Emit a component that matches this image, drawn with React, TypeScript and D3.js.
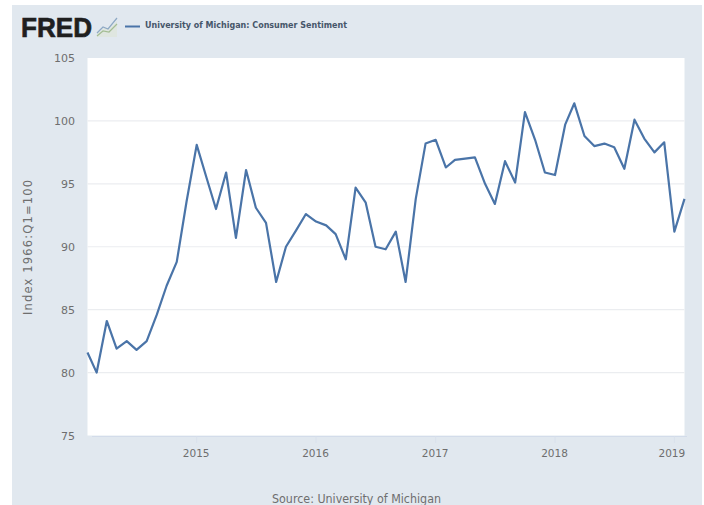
import React from "react";
import * as d3 from "d3";

// University of Michigan: Consumer Sentiment, monthly, Feb 2014 – Feb 2019
const sentiment = [
  81.6, 80.0, 84.1, 81.9, 82.5, 81.8, 82.5, 84.6, 86.9, 88.8, 93.6,
  98.1, 95.4, 93.0, 95.9, 90.7, 96.1, 93.1, 91.9, 87.2, 90.0, 91.3, 92.6,
  92.0, 91.7, 91.0, 89.0, 94.7, 93.5, 90.0, 89.8, 91.2, 87.2, 93.8, 98.2,
  98.5, 96.3, 96.9, 97.0, 97.1, 95.0, 93.4, 96.8, 95.1, 100.7, 98.5, 95.9,
  95.7, 99.7, 101.4, 98.8, 98.0, 98.2, 97.9, 96.2, 100.1, 98.6, 97.5, 98.3,
  91.2, 93.8,
];
const yTicks = [75, 80, 85, 90, 95, 100, 105];
const xTicks = [2015, 2016, 2017, 2018, 2019];
const seriesTitle = "University of Michigan: Consumer Sentiment";
const yAxisTitle = "Index 1966:Q1=100";
const sourceNote = "Source: University of Michigan";

const dates = sentiment.map((_, i) => new Date(2014, 1 + i, 1));
const font = "'DejaVu Sans', sans-serif";

export default function App() {
  const x = d3
    .scaleTime()
    .domain([new Date(2014, 1, 1), new Date(2019, 1, 1)])
    .range([87.5, 684.5]);
  const y = d3.scaleLinear().domain([75, 105]).range([435.5, 58]);
  const line = d3
    .line<number>()
    .x((_, i) => x(dates[i]))
    .y((d) => y(d));

  return (
    <svg
      width={704}
      height={505}
      style={{ position: "absolute", left: 0, top: 0, display: "block" }}
    >
      <rect x={0} y={0} width={704} height={505} fill="#ffffff" />
      <rect x={12} y={5} width={690} height={500} fill="#e1e8ef" />
      <rect x={87.5} y={58} width={597} height={377.5} fill="#ffffff" />

      {yTicks.slice(1, -1).map((t) => (
        <line key={t} x1={87.5} x2={684.5} y1={y(t)} y2={y(t)} stroke="#ebedf0" strokeWidth={1.2} />
      ))}
      {yTicks.map((t) => (
        <text key={t} x={75} y={y(t) + 4} textAnchor="end" fontFamily={font} fontSize={11} fill="#6e6e6e">
          {t}
        </text>
      ))}

      <line x1={92} x2={687} y1={436.5} y2={436.5} stroke="#d3dcea" strokeWidth={1} />
      {xTicks.map((t) => {
        const px = x(new Date(t, 0, 1));
        // the last label is pulled left so it stays inside the plot width
        const labelX = t === 2019 ? px - 2.5 : px - 0.5;
        return (
          <g key={t}>
            <line x1={px} x2={px} y1={436.5} y2={443} stroke="#d9e1ec" strokeWidth={1} />
            <text x={labelX} y={457} textAnchor="middle" fontFamily={font} fontSize={10.5} fill="#6e6e6e">
              {t}
            </text>
          </g>
        );
      })}

      <path d={line(sentiment) ?? ""} fill="none" stroke="#4a74a8" strokeWidth={2.2} strokeLinejoin="round" />

      <text
        transform="translate(32,247.5) rotate(-90)"
        textAnchor="middle"
        fontFamily={font}
        fontSize={11.5}
        fill="#6e6e6e"
        textLength={135}
        lengthAdjust="spacing"
      >
        {yAxisTitle}
      </text>

      <text
        x={21}
        y={37}
        fontFamily="'Liberation Sans', Arial, sans-serif"
        fontWeight={700}
        fontSize={28}
        fill="#1f1f1f"
        stroke="#1f1f1f"
        strokeWidth={0.7}
        textLength={71}
        lengthAdjust="spacingAndGlyphs"
      >
        FRED
      </text>
      <path d="M97 37 L97 33 L104 28 L109 29 L117 21 L117 37 Z" fill="#dfe6e0" />
      <g fill="none" strokeWidth={1.2}>
        <path d="M97 33 L103 27 L108 29 L117 18" stroke="#8ea9c4" />
        <path d="M97 36 L103 31 L109 32 L117 24" stroke="#a4bd94" />
      </g>
      <line x1={125} x2={140} y1={26.5} y2={26.5} stroke="#4a74a8" strokeWidth={2} />
      <text
        x={145}
        y={27.5}
        fontFamily={font}
        fontWeight={700}
        fontSize={9}
        fill="#46566a"
        textLength={202}
        lengthAdjust="spacingAndGlyphs"
      >
        {seriesTitle}
      </text>

      <text
        x={272}
        y={503}
        fontFamily={font}
        fontSize={12}
        fill="#6e6e6e"
        textLength={169}
        lengthAdjust="spacingAndGlyphs"
      >
        {sourceNote}
      </text>
    </svg>
  );
}
